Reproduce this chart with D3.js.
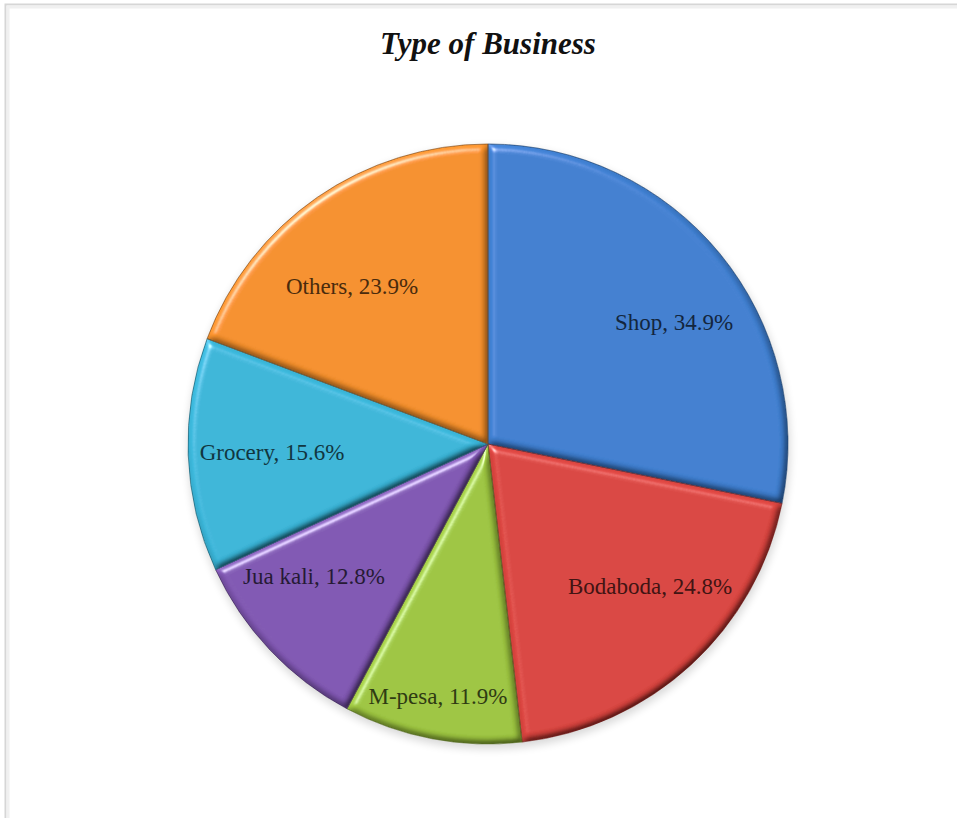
<!DOCTYPE html>
<html>
<head>
<meta charset="utf-8">
<script src="https://cdn.jsdelivr.net/npm/d3@7/dist/d3.min.js"></script>
<style>
  html, body { margin: 0; padding: 0; background: #fff; }
  svg { display: block; }
</style>
</head>
<body>
<svg id="chart" width="957" height="818"></svg>
<script>
// Business type shares (percent values as labelled on each slice)
const categories = ["Shop", "Bodaboda", "M-pesa", "Jua kali", "Grocery", "Others"];
const values = [34.9, 24.8, 11.9, 12.8, 15.6, 23.9];
const sliceColors = ["#3f7fd0", "#d9443f", "#9dc540", "#8057b2", "#3ab5d8", "#f5902c"];
const titleText = "Type of Business";

const W = 957, H = 818;
const cx = 488, cy = 444, R = 300;

const svg = d3.select("#chart");

// chart frame
svg.append("rect").attr("x", 0).attr("y", 0).attr("width", W).attr("height", H).attr("fill", "#fff");
svg.append("path")
  .attr("d", `M5.5,${H} V4.5 H${W}`)
  .attr("fill", "none").attr("stroke", "#d6d6d6").attr("stroke-width", 2);
svg.append("path")
  .attr("d", `M8,${H} V7 H${W}`)
  .attr("fill", "none").attr("stroke", "#f0f0f0").attr("stroke-width", 3);

// bevel lighting for each slice
const defs = svg.append("defs");
const bevel = defs.append("filter").attr("id", "bevel")
  .attr("x", "-5%").attr("y", "-5%").attr("width", "110%").attr("height", "110%");
bevel.append("feGaussianBlur").attr("in", "SourceAlpha").attr("stdDeviation", 3.5).attr("result", "blur");
const diff = bevel.append("feDiffuseLighting").attr("in", "blur").attr("surfaceScale", 5)
  .attr("diffuseConstant", 1).attr("lighting-color", "#fff").attr("result", "diff");
diff.append("feDistantLight").attr("azimuth", 235).attr("elevation", 55);
bevel.append("feComposite").attr("in", "diff").attr("in2", "SourceAlpha").attr("operator", "in").attr("result", "diffIn");
bevel.append("feComposite").attr("in", "SourceGraphic").attr("in2", "diffIn")
  .attr("operator", "arithmetic").attr("k1", 1.22).attr("k2", 0).attr("k3", 0).attr("k4", 0).attr("result", "lit");
const spec = bevel.append("feSpecularLighting").attr("in", "blur").attr("surfaceScale", 5)
  .attr("specularConstant", 0.7).attr("specularExponent", 40).attr("lighting-color", "#fff").attr("result", "spec");
spec.append("feDistantLight").attr("azimuth", 235).attr("elevation", 40);
bevel.append("feComposite").attr("in", "spec").attr("in2", "SourceAlpha").attr("operator", "in").attr("result", "specIn");
bevel.append("feComposite").attr("in", "lit").attr("in2", "specIn")
  .attr("operator", "arithmetic").attr("k1", 0).attr("k2", 1).attr("k3", 0.8).attr("k4", 0);

const shadow = defs.append("filter").attr("id", "shadow")
  .attr("x", "-10%").attr("y", "-10%").attr("width", "120%").attr("height", "120%");
shadow.append("feGaussianBlur").attr("stdDeviation", 4);

// title
svg.append("text")
  .attr("x", cx).attr("y", 54)
  .attr("text-anchor", "middle")
  .style("font-family", "'Liberation Serif', 'Times New Roman', serif")
  .style("font-size", "31px").style("font-weight", "bold").style("font-style", "italic")
  .attr("fill", "#111")
  .text(titleText);

const data = categories.map((c, i) => ({ name: c, value: values[i], color: sliceColors[i] }));
const pie = d3.pie().sort(null).value(d => d.value).startAngle(0).endAngle(2 * Math.PI);
const arcs = pie(data);
const arc = d3.arc().innerRadius(0).outerRadius(R);

const g = svg.append("g").attr("transform", `translate(${cx},${cy})`);

// soft shadow under the pie
g.append("circle").attr("cx", 1).attr("cy", 4).attr("r", R + 1)
  .attr("fill", "#000").attr("opacity", 0.15).attr("filter", "url(#shadow)");

g.selectAll("path.slice")
  .data(arcs)
  .join("path")
  .attr("class", "slice")
  .attr("d", arc)
  .attr("fill", d => d.data.color)
  .attr("filter", "url(#bevel)");

g.selectAll("path.edge")
  .data(arcs)
  .join("path")
  .attr("class", "edge")
  .attr("d", arc)
  .attr("fill", "none")
  .attr("stroke", d => d3.color(d.data.color).darker(1.6))
  .attr("stroke-opacity", 0.7)
  .attr("stroke-width", 1);

// labels: preferred spot on an ellipse inside the pie, moved to the nearest spot where the text box fits its slice
const fontSize = 23;
const pad = 6;
function angleOf(x, y) {
  let a = Math.atan2(x, -y);
  if (a < 0) a += 2 * Math.PI;
  return a;
}
function fits(d, x, y, w, h) {
  const corners = [[x - w / 2 - pad, y - h / 2 - pad], [x + w / 2 + pad, y - h / 2 - pad],
                   [x - w / 2 - pad, y + h / 2 + pad], [x + w / 2 + pad, y + h / 2 + pad]];
  return corners.every(([px, py]) => {
    if (Math.hypot(px, py) > R - 4) return false;
    let a = angleOf(px, py);
    if (d.startAngle === 0 && a > Math.PI * 1.5) a -= 2 * Math.PI;
    return a >= d.startAngle && a <= d.endAngle;
  });
}

const labels = g.selectAll("text.lbl")
  .data(arcs)
  .join("text")
  .attr("class", "lbl")
  .attr("text-anchor", "middle")
  .attr("dominant-baseline", "central")
  .style("font-family", "'Liberation Serif', 'Times New Roman', serif")
  .style("font-size", fontSize + "px")
  .attr("fill", d => d3.color(d.data.color).darker(3.4))
  .text(d => `${d.data.name}, ${d.data.value}%`);

labels.each(function (d) {
  const w = this.getBBox().width, h = fontSize * 0.8;
  const mid = (d.startAngle + d.endAngle) / 2;
  const px = Math.sin(mid) * R * 0.8;
  const py = -Math.cos(mid) * R * 0.64;
  let bx = px, by = py, bestDist = Infinity;
  for (let x = -R; x <= R; x += 2) {
    for (let y = -R; y <= R; y += 2) {
      const dist = Math.hypot(x - px, y - py);
      if (dist < bestDist && fits(d, x, y, w, h)) { bestDist = dist; bx = x; by = y; }
    }
  }
  d3.select(this).attr("x", bx).attr("y", by);
});
</script>
</body>
</html>
